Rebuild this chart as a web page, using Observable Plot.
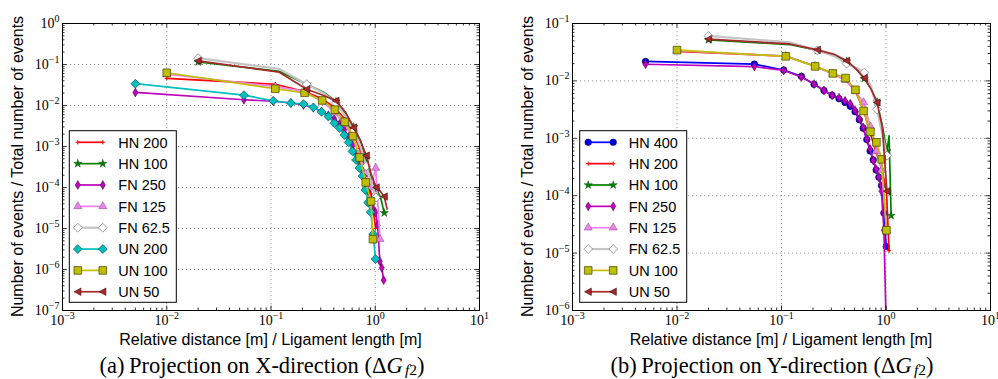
<!DOCTYPE html>
<html><head><meta charset="utf-8">
<script src="https://cdn.jsdelivr.net/npm/d3@7"></script>
<script src="https://cdn.jsdelivr.net/npm/@observablehq/plot@0.6"></script>
<style>
body{margin:0;background:#fff;}
#wrap{position:relative;width:998px;height:379px;overflow:hidden;background:#fff;}
#wrap svg{position:absolute;top:0;max-width:none;}
</style></head>
<body><div id="wrap"></div>
<script>
// ---------- tick values ----------
const xMajor = [1e-3, 1e-2, 1e-1, 1, 10];
const yMajorA = [1e-7, 1e-6, 1e-5, 1e-4, 1e-3, 1e-2, 1e-1, 1];
const yMajorB = [1e-6, 1e-5, 1e-4, 1e-3, 1e-2, 1e-1];

// ---------- series names (legend order) ----------
const seriesA = ["HN 200", "HN 100", "FN 250", "FN 125", "FN 62.5", "UN 200", "UN 100", "UN 50"];
const seriesB = ["HN 400", "HN 200", "HN 100", "FN 250", "FN 125", "FN 62.5", "UN 100", "UN 50"];

// ---------- panel (a): projection on X ----------
const A_HN200_x = [0.01,0.11,0.21,0.31,0.41,0.51,0.61,0.71,0.81,0.91,1.01];
const A_HN200_y = [0.046,0.033,0.022,0.0145,0.0088,0.0047,0.0022,0.0009,0.00028,0.00007,0.00001];
const A_HN100_x = [0.02,0.12,0.22,0.32,0.42,0.52,0.62,0.72,0.82,0.92,1.02,1.12,1.22];
const A_HN100_y = [0.115,0.068,0.033,0.021,0.0125,0.0062,0.003,0.0014,0.0005,0.00017,0.00009,0.00006,0.000024];
const A_FN250_x = [0.005,0.055,0.105,0.155,0.205,0.255,0.305,0.355,0.405,0.455,0.505,0.555,0.605,0.655,0.705,0.755,0.805,0.855,0.905,0.955,1.005,1.055,1.105,1.155,1.205];
const A_FN250_y = [0.0208,0.0138,0.0127,0.0115,0.0103,0.0088,0.0072,0.0058,0.0047,0.0036,0.0026,0.0017,0.0011,0.00066,0.0004,0.00024,0.00014,0.00008,0.000045,0.00003,0.000025,0.000012,0.0000016,0.0000011,0.00000055];
const A_FN125_x = [0.01,0.11,0.21,0.31,0.41,0.51,0.61,0.71,0.81,0.91,1.01,1.11];
const A_FN125_y = [0.058,0.029,0.022,0.0125,0.0068,0.0035,0.0016,0.0006,0.00022,0.0001,0.0003,0.0000055];
const A_FN62_x = [0.02,0.12,0.22,0.32,0.42,0.52,0.62,0.72,0.82,0.92,1.02];
const A_FN62_y = [0.143,0.078,0.033,0.02,0.0115,0.0055,0.0024,0.001,0.00033,0.00013,0.000057];
const A_UN200_x = [0.005,0.055,0.105,0.155,0.205,0.255,0.305,0.355,0.405,0.455,0.505,0.555,0.605,0.655,0.705,0.755,0.805,0.855,0.905,0.955,1.005];
const A_UN200_y = [0.034,0.0179,0.013,0.0115,0.0108,0.009,0.007,0.0054,0.0037,0.0028,0.0019,0.00126,0.00076,0.00047,0.0003,0.00019,0.000087,0.000043,0.000025,0.0000073,0.0000018];
const A_UN100_x = [0.01,0.11,0.21,0.31,0.41,0.51,0.61,0.71,0.81,0.91,0.95];
const A_UN100_y = [0.0628,0.0256,0.0204,0.0133,0.0079,0.004,0.0018,0.00054,0.000133,0.000046,0.0000055];
const A_UN50_x = [0.02,0.12,0.22,0.32,0.42,0.52,0.62,0.72,0.82,0.92,1.02,1.12,1.22,1.3];
const A_UN50_y = [0.123,0.065,0.025,0.0175,0.013,0.0068,0.0029,0.0014,0.0006,0.0002,0.0001,0.00008,0.00006,0.00003];

// ---------- panel (b): projection on Y ----------
const B_HN400_x = [0.005,0.055,0.105,0.155,0.205,0.255,0.305,0.355,0.405,0.455,0.505,0.555,0.605,0.655,0.705,0.755,0.805,0.855,0.905,0.955,1.005];
const B_HN400_y = [0.0218,0.0196,0.0155,0.012,0.0087,0.0068,0.0056,0.0049,0.0042,0.0036,0.0029,0.0021,0.0015,0.00095,0.0006,0.00042,0.00028,0.00021,0.00015,0.00005,0.000013];
const B_HN200_x = [0.01,0.11,0.21,0.31,0.41,0.51,0.61,0.71,0.81,0.91,1.01,1.07];
const B_HN200_y = [0.0325,0.027,0.018,0.0134,0.0105,0.0066,0.0031,0.0012,0.00055,0.0003,0.00012,0.000011];
const B_HN100_x = [0.02,0.12,0.22,0.32,0.42,0.52,0.62,0.72,0.82,0.92,1.02,1.07,1.12];
const B_HN100_y = [0.052,0.043,0.034,0.028,0.022,0.016,0.011,0.0073,0.0043,0.0017,0.0006,0.0011,0.000045];
const B_FN250_x = [0.005,0.055,0.105,0.155,0.205,0.255,0.305,0.355,0.405,0.455,0.505,0.555,0.605,0.655,0.705,0.755,0.805,0.855,0.905,0.955,1.005];
const B_FN250_y = [0.0195,0.0178,0.0152,0.0117,0.0088,0.0068,0.0056,0.0051,0.0045,0.004,0.0031,0.0022,0.00155,0.00098,0.00065,0.00041,0.00029,0.00021,0.00012,0.000025,0.0000005];
const B_FN125_x = [0.01,0.11,0.21,0.31,0.41,0.51,0.61,0.71,0.81,0.91,1.01];
const B_FN125_y = [0.0335,0.027,0.018,0.0132,0.0103,0.0066,0.0042,0.0016,0.0006,0.00028,0.000025];
const B_FN62_x = [0.02,0.12,0.22,0.32,0.42,0.52,0.62,0.72,0.82,0.92,1.02];
const B_FN62_y = [0.061,0.047,0.034,0.027,0.02,0.017,0.014,0.008,0.0032,0.0012,0.0005];
const B_UN100_x = [0.01,0.11,0.21,0.31,0.41,0.51,0.61,0.71,0.81,0.91,1.01];
const B_UN100_y = [0.0344,0.0268,0.0179,0.0135,0.0112,0.007,0.003,0.0013,0.00085,0.00043,0.000025];
const B_UN50_x = [0.02,0.12,0.22,0.32,0.42,0.52,0.62,0.72,0.82,0.92,1.02];
const B_UN50_y = [0.0535,0.044,0.0348,0.029,0.0224,0.016,0.0112,0.0072,0.0042,0.0016,0.00012];

const dataA = {
  "HN 200": [A_HN200_x, A_HN200_y], "HN 100": [A_HN100_x, A_HN100_y],
  "FN 250": [A_FN250_x, A_FN250_y], "FN 125": [A_FN125_x, A_FN125_y],
  "FN 62.5": [A_FN62_x, A_FN62_y], "UN 200": [A_UN200_x, A_UN200_y],
  "UN 100": [A_UN100_x, A_UN100_y], "UN 50": [A_UN50_x, A_UN50_y]
};
const dataB = {
  "HN 400": [B_HN400_x, B_HN400_y], "HN 200": [B_HN200_x, B_HN200_y],
  "HN 100": [B_HN100_x, B_HN100_y], "FN 250": [B_FN250_x, B_FN250_y],
  "FN 125": [B_FN125_x, B_FN125_y], "FN 62.5": [B_FN62_x, B_FN62_y],
  "UN 100": [B_UN100_x, B_UN100_y], "UN 50": [B_UN50_x, B_UN50_y]
};

// ---------- styles ----------
const triLeft = {draw(ctx, size) {
  const s = Math.sqrt(size) * 0.6;
  ctx.moveTo(-s, 0); ctx.lineTo(s * 0.85, -s); ctx.lineTo(s * 0.85, s); ctx.closePath();
}};
const styles = {
  "HN 400": {color: "#0000ff", lw: 1.7, symbol: d3.symbolCircle, r: 3.3, fill: "#0000ff", edge: "#000", ew: 0.5, every: 1},
  "HN 200": {color: "#ff0000", lw: 1.7, symbol: d3.symbolPlus, r: 1.5, fill: "none", edge: "#ff0000", ew: 1, every: 1},
  "HN 100": {color: "#008000", lw: 1.7, symbol: d3.symbolStar, r: 2.6, fill: "#008000", edge: "#004000", ew: 0.4, every: 2},
  "FN 250": {color: "#bf00bf", lw: 1.7, symbol: d3.symbolDiamond, r: 2.7, fill: "#bf00bf", edge: "#400040", ew: 0.5, every: 1},
  "FN 125": {color: "#ee82ee", lw: 1.7, symbol: d3.symbolTriangle, r: 3, fill: "#ee82ee", edge: "#804080", ew: 0.5, every: 1},
  "FN 62.5": {color: "#c4c4c4", lw: 2.2, symbol: d3.symbolDiamond2, r: 4, fill: "#ffffff", edge: "#777777", ew: 0.7, every: 2},
  "UN 200": {color: "#00bfbf", lw: 1.7, symbol: d3.symbolDiamond2, r: 4, fill: "#00bfbf", edge: "#004040", ew: 0.6, every: 1},
  "UN 100": {color: "#bfbf00", lw: 1.7, symbol: d3.symbolSquare, r: 4.3, fill: "#bfbf00", edge: "#404000", ew: 0.7, every: 1},
  "UN 50": {color: "#a52a2a", lw: 1.7, symbol: triLeft, r: 3.5, fill: "#a52a2a", edge: "#300000", ew: 0.5, every: 2}
};

const SANS = "'Liberation Sans', Arial, Helvetica, sans-serif";
const SERIF = "'Liberation Serif', 'Times New Roman', serif";

function minorsOf(majors) {
  const out = [];
  for (let i = 0; i < majors.length - 1; i++) for (let k = 2; k <= 9; k++) out.push(majors[i] * k);
  return out;
}
const pow = d => "10^" + Math.round(Math.log10(d));

function makePanel(cfg) {
  const {names, data, yMajor, W, ml, mr, left, legendX, ylabX, capX, capLetter, capDir} = cfg;
  const H = 379, mt = 23, mb = 69;
  const fw = W - ml - mr, fh = H - mt - mb;
  const xMinor = minorsOf(xMajor), yMinor = minorsOf(yMajor);
  const grid = {stroke: "#8a8a8a", strokeWidth: 0.9, strokeDasharray: "1.2,2.8"};
  const marks = [
    Plot.ruleX(xMajor.slice(1, -1), {x: d => d, ...grid}),
    Plot.ruleY(yMajor.slice(1, -1), {y: d => d, ...grid})
  ];
  names.forEach(n => {
    const st = styles[n];
    const [xs, ys] = data[n];
    const pts = xs.map((x, i) => ({x, y: ys[i], i}));
    marks.push(Plot.line(pts, {x: "x", y: "y", stroke: st.color, strokeWidth: st.lw, clip: true}));
    marks.push(Plot.dot(pts.filter(p => p.i % st.every === 0), {
      x: "x", y: "y", symbol: st.symbol, r: st.r, fill: st.fill,
      stroke: st.edge, strokeWidth: st.ew, clip: true
    }));
  });
  const tk = {stroke: "#000", strokeWidth: 0.8};
  const MJ = 4.5, MN = 2.5;
  marks.push(
    Plot.tickX(xMajor, {x: d => d, insetTop: fh - MJ, ...tk}),
    Plot.tickX(xMajor, {x: d => d, insetBottom: fh - MJ, ...tk}),
    Plot.tickX(xMinor, {x: d => d, insetTop: fh - MN, ...tk}),
    Plot.tickX(xMinor, {x: d => d, insetBottom: fh - MN, ...tk}),
    Plot.tickY(yMajor, {y: d => d, insetRight: fw - MJ, ...tk}),
    Plot.tickY(yMajor, {y: d => d, insetLeft: fw - MJ, ...tk}),
    Plot.tickY(yMinor, {y: d => d, insetRight: fw - MN, ...tk}),
    Plot.tickY(yMinor, {y: d => d, insetLeft: fw - MN, ...tk}),
    Plot.frame({stroke: "#000", strokeWidth: 1}),
    Plot.axisX(xMajor, {tickSize: 0, tickPadding: 5, tickFormat: pow, label: null}),
    Plot.axisY(yMajor, {tickSize: 0, tickPadding: 3, tickFormat: pow, label: null})
  );
  const svg = Plot.plot({
    width: W, height: H, marginTop: mt, marginBottom: mb, marginLeft: ml, marginRight: mr,
    x: {type: "log", domain: [xMajor[0], xMajor[xMajor.length - 1]]},
    y: {type: "log", domain: [yMajor[0], yMajor[yMajor.length - 1]]},
    style: {background: "transparent", overflow: "visible"},
    marks
  });
  svg.style.left = left + "px";
  // superscript tick labels
  const ns = "http://www.w3.org/2000/svg";
  svg.querySelectorAll('g[aria-label="x-axis tick label"] text, g[aria-label="y-axis tick label"] text').forEach(t => {
    const m = t.textContent.match(/^10\^(-?\d+)$/);
    if (!m) return;
    t.textContent = "";
    t.setAttribute("font-family", SERIF);
    t.setAttribute("font-size", "14");
    t.setAttribute("fill", "#000");
    const a = document.createElementNS(ns, "tspan"); a.textContent = "10"; t.appendChild(a);
    const b = document.createElementNS(ns, "tspan");
    b.textContent = m[1].replace("-", "\u2212");
    b.setAttribute("dy", "-0.6em"); b.setAttribute("font-size", "10");
    t.appendChild(b);
  });
  const s = d3.select(svg);
  // axis titles
  s.append("text").attr("x", ml + fw / 2).attr("y", 345).attr("text-anchor", "middle")
    .attr("font-family", SANS).attr("font-size", 16).attr("fill", "#000")
    .text("Relative distance [m] / Ligament length [m]");
  s.append("text").attr("transform", `translate(${ylabX},${mt + fh / 2}) rotate(-90)`)
    .attr("text-anchor", "middle").attr("font-family", SANS).attr("font-size", 16).attr("fill", "#000")
    .text("Number of events / Total number of events");
  // caption
  const cap = s.append("text").attr("x", capX).attr("y", 372.5).attr("text-anchor", "middle")
    .attr("font-family", SERIF).attr("font-size", 22.5).attr("fill", "#000");
  cap.append("tspan").text(`(${capLetter})\u2009Projection on ${capDir}-direction (\u0394`);
  cap.append("tspan").attr("font-style", "italic").text("G");
  cap.append("tspan").attr("font-style", "italic").attr("font-size", 15.5).attr("dx", "0.15em").attr("dy", "0.15em").text("f");
  cap.append("tspan").attr("font-size", 15.5).text("2");
  cap.append("tspan").attr("dy", "-0.1em").text(")");
  // legend
  const g = s.append("g").attr("text-anchor", "start");
  const ly0 = 130.7, lh = 171.6, lw = 107;
  g.append("rect").attr("x", legendX).attr("y", ly0).attr("width", lw).attr("height", lh)
    .attr("fill", "#fff").attr("stroke", "#000").attr("stroke-width", 1);
  names.forEach((n, i) => {
    const st = styles[n];
    const y = 142.3 + i * 21.35;
    const x1 = legendX + 8.5, x2 = legendX + 33.5;
    g.append("line").attr("x1", x1).attr("x2", x2).attr("y1", y).attr("y2", y)
      .attr("stroke", st.color).attr("stroke-width", st.lw);
    [x1, x2].forEach(x => g.append("path")
      .attr("d", d3.symbol(st.symbol, Math.PI * st.r * st.r)())
      .attr("transform", `translate(${x},${y})`)
      .attr("fill", st.fill).attr("stroke", st.edge).attr("stroke-width", st.ew));
    g.append("text").attr("x", legendX + 49).attr("y", y).attr("dy", "0.36em")
      .attr("text-anchor", "start")
      .attr("font-family", SANS).attr("font-size", 14.5).attr("fill", "#000").text(n);
  });
  return svg;
}

const wrap = document.getElementById("wrap");
wrap.appendChild(makePanel({
  names: seriesA, data: dataA, yMajor: yMajorA, W: 499, ml: 62, mr: 20, left: 0,
  legendX: 69.3, ylabX: 22.5, capX: 262, capLetter: "a", capDir: "X"
}));
wrap.appendChild(makePanel({
  names: seriesB, data: dataB, yMajor: yMajorB, W: 500, ml: 74, mr: 8, left: 498,
  legendX: 81.7, ylabX: 34.5, capX: 274, capLetter: "b", capDir: "Y"
}));
</script>
</body></html>
